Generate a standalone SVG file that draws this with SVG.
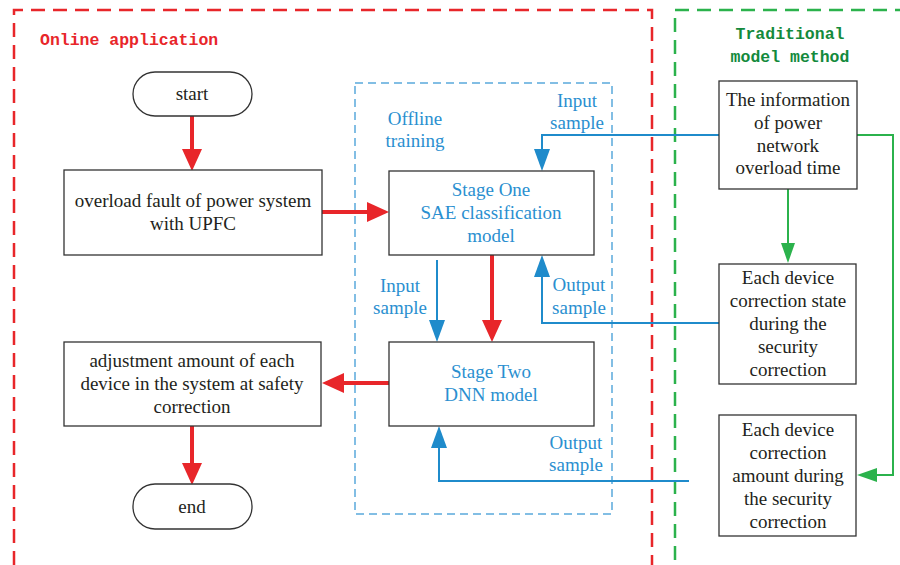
<svg xmlns="http://www.w3.org/2000/svg" width="900" height="565" viewBox="0 0 900 565">
  <style>
    .box { fill: #fff; stroke: #333; stroke-width: 1.3; }
    .txt { font-family: "Liberation Serif", "Times New Roman", serif; font-size: 19px; fill: #231f20; text-anchor: middle; }
    .btxt { font-family: "Liberation Serif", "Times New Roman", serif; font-size: 19px; fill: #2a8fd0; text-anchor: middle; }
    .mono { font-family: "Liberation Mono", "Courier New", monospace; font-size: 16.5px; font-weight: bold; }
    .red { fill: none; stroke: #e8262a; stroke-width: 4; }
    .blue { fill: none; stroke: #1f8bcb; stroke-width: 2; }
    .green { fill: none; stroke: #2bb24c; stroke-width: 2; }
  </style>
  <defs>
    <marker id="ahRed" markerUnits="userSpaceOnUse" markerWidth="22" markerHeight="20" refX="0" refY="10" orient="auto">
      <path d="M0,0 L22,10 L0,20 z" fill="#e8262a"/>
    </marker>
    <marker id="ahBlue" markerUnits="userSpaceOnUse" markerWidth="22" markerHeight="16" refX="0" refY="8" orient="auto">
      <path d="M0,0 L22,8 L0,16 z" fill="#1f8bcb"/>
    </marker>
    <marker id="ahGreen" markerUnits="userSpaceOnUse" markerWidth="20" markerHeight="14" refX="0" refY="7" orient="auto">
      <path d="M0,0 L20,7 L0,14 z" fill="#2bb24c"/>
    </marker>
  </defs>

  <rect width="900" height="565" fill="#fff"/>

  <!-- region frames -->
  <g id="online-region">
    <path d="M14,565 L14,10 L652,10 L652,565" fill="none" stroke="#e8262a" stroke-width="2.5" stroke-dasharray="14 8"/>
    <text class="mono" x="40" y="45" fill="#e8262a">Online application</text>
  </g>
  <g id="traditional-region">
    <path d="M675,560 L675,10 L900,10" fill="none" stroke="#2bb24c" stroke-width="2.5" stroke-dasharray="14 8"/>
    <text class="mono" x="790" y="39" fill="#138a3c" text-anchor="middle">Traditional</text>
    <text class="mono" x="790" y="62" fill="#138a3c" text-anchor="middle">model method</text>
  </g>
  <g id="offline-region">
    <rect x="355" y="83" width="257" height="431" fill="none" stroke="#5aa9dc" stroke-width="1.5" stroke-dasharray="8 5"/>
    <text class="btxt" x="415" y="125">Offline</text>
    <text class="btxt" x="415" y="147">training</text>
  </g>

  <!-- connectors -->
  <g id="connectors">
    <path class="red" d="M192,116 L192,149" marker-end="url(#ahRed)"/>
    <path class="red" d="M322,212 L367,212" marker-end="url(#ahRed)"/>
    <path class="red" d="M492,255 L492,320" marker-end="url(#ahRed)"/>
    <path class="red" d="M389,383 L344,383" marker-end="url(#ahRed)"/>
    <path class="red" d="M192,426 L192,463" marker-end="url(#ahRed)"/>

    <path class="blue" d="M719,135 L542,135 L542,149" marker-end="url(#ahBlue)"/>
    <path class="blue" d="M437,260 L437,320" marker-end="url(#ahBlue)"/>
    <path class="blue" d="M719,323 L542,323 L542,277" marker-end="url(#ahBlue)"/>
    <path class="blue" d="M689,481 L439,481 L439,448" marker-end="url(#ahBlue)"/>

    <path class="green" d="M788,189 L788,243" marker-end="url(#ahGreen)"/>
    <path class="green" d="M857,135 L893,135 L893,475 L877,475" marker-end="url(#ahGreen)"/>

    <text class="btxt" x="577" y="107">Input</text>
    <text class="btxt" x="577" y="129">sample</text>
    <text class="btxt" x="400" y="292">Input</text>
    <text class="btxt" x="400" y="314">sample</text>
    <text class="btxt" x="579" y="291">Output</text>
    <text class="btxt" x="579" y="314">sample</text>
    <text class="btxt" x="576" y="449">Output</text>
    <text class="btxt" x="576" y="471">sample</text>
  </g>

  <!-- nodes -->
  <g id="start">
    <rect class="box" x="133" y="72" width="119" height="44" rx="22"/>
    <text class="txt" x="192" y="100">start</text>
  </g>
  <g id="overload-fault">
    <rect class="box" x="64" y="170" width="258" height="85"/>
    <text class="txt" x="193" y="207">overload fault of power system</text>
    <text class="txt" x="193" y="230">with UPFC</text>
  </g>
  <g id="stage-one">
    <rect class="box" x="389" y="171" width="205" height="84"/>
    <text class="btxt" x="491" y="196">Stage One</text>
    <text class="btxt" x="491" y="219">SAE classification</text>
    <text class="btxt" x="491" y="242">model</text>
  </g>
  <g id="stage-two">
    <rect class="box" x="389" y="342" width="205" height="84"/>
    <text class="btxt" x="491" y="378">Stage Two</text>
    <text class="btxt" x="491" y="401">DNN model</text>
  </g>
  <g id="adjustment">
    <rect class="box" x="64" y="342" width="257" height="84"/>
    <text class="txt" x="192" y="367">adjustment amount of each</text>
    <text class="txt" x="192" y="390">device in the system at safety</text>
    <text class="txt" x="192" y="413">correction</text>
  </g>
  <g id="end">
    <rect class="box" x="133" y="484" width="119" height="45" rx="22"/>
    <text class="txt" x="192" y="513">end</text>
  </g>
  <g id="overload-info">
    <rect class="box" x="719" y="81" width="138" height="108"/>
    <text class="txt" x="788" y="106">The information</text>
    <text class="txt" x="788" y="129">of power</text>
    <text class="txt" x="788" y="152">network</text>
    <text class="txt" x="788" y="174">overload time</text>
  </g>
  <g id="correction-state">
    <rect class="box" x="719" y="264" width="137" height="120"/>
    <text class="txt" x="788" y="284">Each device</text>
    <text class="txt" x="788" y="307">correction state</text>
    <text class="txt" x="788" y="330">during the</text>
    <text class="txt" x="788" y="353">security</text>
    <text class="txt" x="788" y="376">correction</text>
  </g>
  <g id="correction-amount">
    <rect class="box" x="719" y="415" width="137" height="121"/>
    <text class="txt" x="788" y="436">Each device</text>
    <text class="txt" x="788" y="459">correction</text>
    <text class="txt" x="788" y="482">amount during</text>
    <text class="txt" x="788" y="505">the security</text>
    <text class="txt" x="788" y="528">correction</text>
  </g>
</svg>
